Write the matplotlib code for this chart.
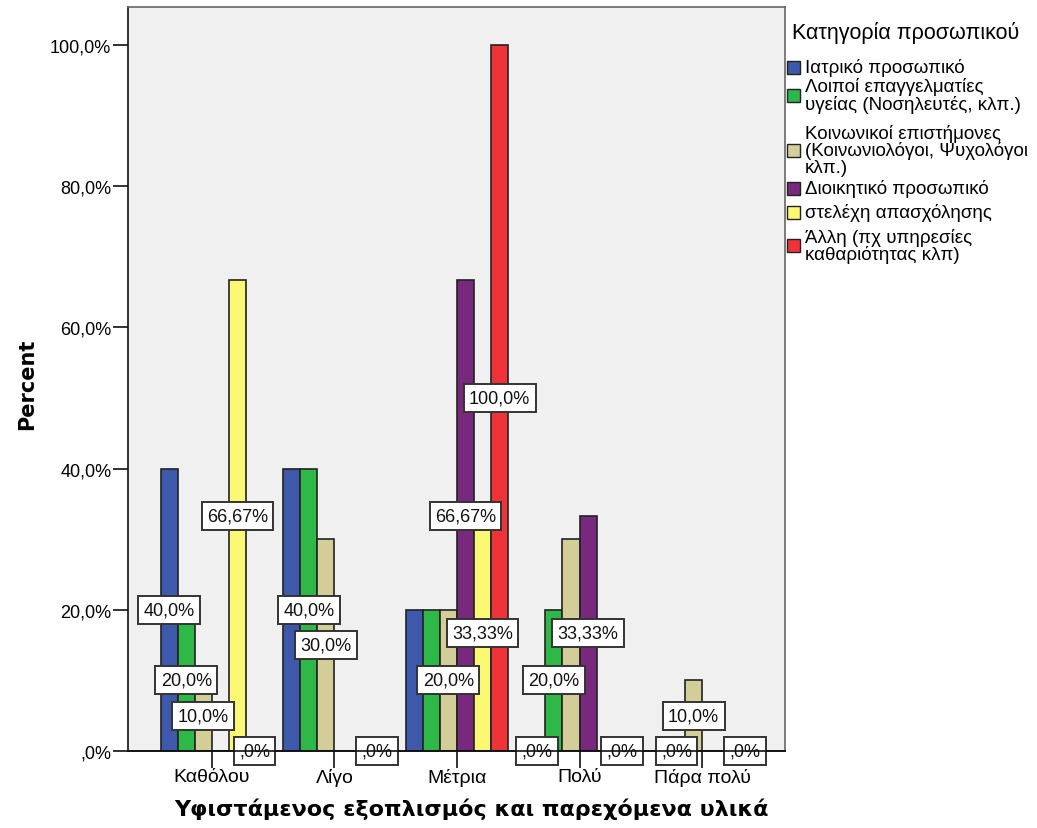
import matplotlib
matplotlib.use("Agg")
import matplotlib.pyplot as plt
from matplotlib.patches import Rectangle
import numpy as np

plt.rcParams['font.family'] = ['Liberation Sans', 'DejaVu Sans']

categories = ["Καθόλου", "Λίγο", "Μέτρια", "Πολύ", "Πάρα πολύ"]
series_names = [
    "Ιατρικό προσωπικό",
    "Λοιποί επαγγελματίες\nυγείας (Νοσηλευτές, κλπ.)",
    "Κοινωνικοί επιστήμονες\n(Κοινωνιολόγοι, Ψυχολόγοι\nκλπ.)",
    "Διοικητικό προσωπικό",
    "στελέχη απασχόλησης",
    "Άλλη (πχ υπηρεσίες\nκαθαριότητας κλπ)",
]
colors = ["#3E58AC", "#2EB848", "#D3CE97", "#78287D", "#FBF873", "#EF3338"]

iatriko = [40.0, 40.0, 20.0, 0.0, 0.0]
loipoi = [20.0, 40.0, 20.0, 20.0, 0.0]
koinonikoi = [10.0, 30.0, 20.0, 30.0, 10.0]
dioikitiko = [0.0, 0.0, 66.67, 33.33, 0.0]
stelexi = [66.67, 0.0, 33.33, 0.0, 0.0]
alli = [0.0, 0.0, 100.0, 0.0, 0.0]
values = [iatriko, loipoi, koinonikoi, dioikitiko, stelexi, alli]

# which value labels are visible in the reference (others hidden by overlap)
show_label = [
    [1, 0, 0, 1, 0],
    [1, 1, 0, 1, 1],
    [1, 1, 1, 0, 1],
    [0, 0, 1, 1, 0],
    [1, 0, 1, 0, 0],
    [1, 1, 1, 1, 1],
]

yticks = [0, 20, 40, 60, 80, 100]


def fmt(v):
    if abs(v * 10 - round(v * 10)) < 1e-6:
        s = f"{v:.1f}"
    else:
        s = f"{v:.2f}"
    s = s.replace(".", ",")
    if s.startswith("0,"):
        s = s[1:]
    return s + "%"


W, H = 1037, 829
fig = plt.figure(figsize=(W / 100, H / 100), dpi=100)
ax = fig.add_axes([128 / W, 1 - 752 / H, (785 - 128) / W, (752 - 8) / H])
ax.set_facecolor("#F0F0F0")

n = len(values)
bw = 0.139
x = np.arange(len(categories))
for i, (vals, c) in enumerate(zip(values, colors)):
    off = (i - (n - 1) / 2) * bw
    ax.bar(x + off, vals, width=bw, color=c, edgecolor="#222222", linewidth=1.2, zorder=2)
for i, vals in enumerate(values):
    off = (i - (n - 1) / 2) * bw
    for j, v in enumerate(vals):
        if show_label[i][j]:
            ax.text(x[j] + off, v / 2, fmt(v), ha="center", va="center", fontsize=13,
                    color="#111111", zorder=5, clip_on=False,
                    bbox=dict(boxstyle="square,pad=0.3", fc="white", ec="#333333", lw=1.4))

ax.axhline(0, color="#111111", lw=1.2, zorder=6, clip_on=False)
ax.set_xlim(-0.685, 4.677)
ax.set_ylim(0, 105.4)
ax.set_xticks(x)
ax.set_xticklabels(categories, fontsize=14)
ax.set_yticks(yticks)
ax.set_yticklabels([fmt(t) for t in yticks], fontsize=13)
ax.tick_params(axis="y", length=11, width=1.2, color="#111111", pad=1)
ax.tick_params(axis="x", length=12, width=1.2, color="#111111", pad=0)
for s in ["top", "right"]:
    ax.spines[s].set_color("#666666")
    ax.spines[s].set_linewidth(1.2)
ax.spines["left"].set_color("#111111")
ax.spines["left"].set_linewidth(1.2)
ax.spines["bottom"].set_color("#111111")
ax.spines["bottom"].set_linewidth(1.2)

fig.text(27 / W, 1 - 384 / H, "Percent", fontsize=15, fontweight="bold",
         family="DejaVu Sans", rotation=90, ha="center", va="center")
fig.text(471 / W, 1 - 809 / H, "Υφιστάμενος εξοπλισμός και παρεχόμενα υλικά", fontsize=16,
         fontweight="bold", family="DejaVu Sans", ha="center", va="center")

# legend
fig.text(792 / W, 1 - 33 / H, "Κατηγορία προσωπικού", fontsize=15.5, ha="left", va="center")
centers = [68, 96, 151, 189, 213, 246.5]
for name, c, yc in zip(series_names, colors, centers):
    fig.patches.append(Rectangle((787 / W, 1 - (yc + 6.5) / H), 13 / W, 13 / H,
                                 transform=fig.transFigure, fc=c, ec="#222222", lw=1.0))
    fig.text(805 / W, 1 - yc / H, name, fontsize=13.5, ha="left", va="center",
             linespacing=0.95)

fig.savefig("out.png", dpi=100, facecolor="white")
